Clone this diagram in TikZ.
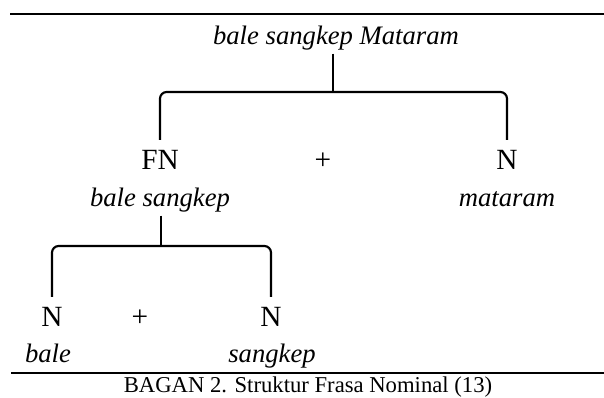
\documentclass[tikz,border=0pt]{standalone}
\usepackage{fontspec}
\setmainfont{Liberation Serif}

\tikzset{
  cat/.style={font=\fontsize{22}{26}\selectfont, anchor=base, inner xsep=2pt, inner ysep=8pt},
  word/.style={font=\fontsize{20}{24}\selectfont\itshape, anchor=base, inner sep=2pt},
  branch/.style={line width=1.6pt, rounded corners=5pt},
  rule/.style={line width=2pt},
}

\begin{document}
\begin{tikzpicture}[x=0.75pt, y=-0.75pt]
  \useasboundingbox (0,0) rectangle (604,398);
  % Rules above and below
  \draw[rule] (10,14) -- (604,14);
  \draw[rule] (11,373) -- (604,373);

  % Top level
  \node[word] (root) at (336,45) {bale sangkep Mataram};
  \coordinate (j1) at (333,92);
  \node[cat] (fn) at (160,170) {FN};
  \node[cat] (plus1) at (323,170) {+};
  \node[cat] (nm) at (507,170) {N};
  \node[word] (fnw) at (160,207) {bale sangkep};
  \node[word] (nmw) at (507,207) {mataram};
  \draw[branch] (j1 |- root.south) -- (j1);
  \draw[branch] (fn.north) -- (fn.north |- j1) -- (nm.north |- j1) -- (nm.north);

  % Lower level
  \coordinate (j2) at (161,246);
  \node[cat] (nb) at (52,327) {N};
  \node[cat] (plus2) at (140,327) {+};
  \node[cat] (ns) at (271,327) {N};
  \node[word] (nbw) at (48,363) {bale};
  \node[word] (nsw) at (272,363) {sangkep};
  \draw[branch] (j2 |- fnw.south) -- (j2);
  \draw[branch] (nb.north) -- (nb.north |- j2) -- (ns.north |- j2) -- (ns.north);

  \node[font=\fontsize{17}{20}\selectfont, anchor=base] (cap) at (308,393) {BAGAN 2. Struktur Frasa Nominal (13)};
\end{tikzpicture}
\end{document}
